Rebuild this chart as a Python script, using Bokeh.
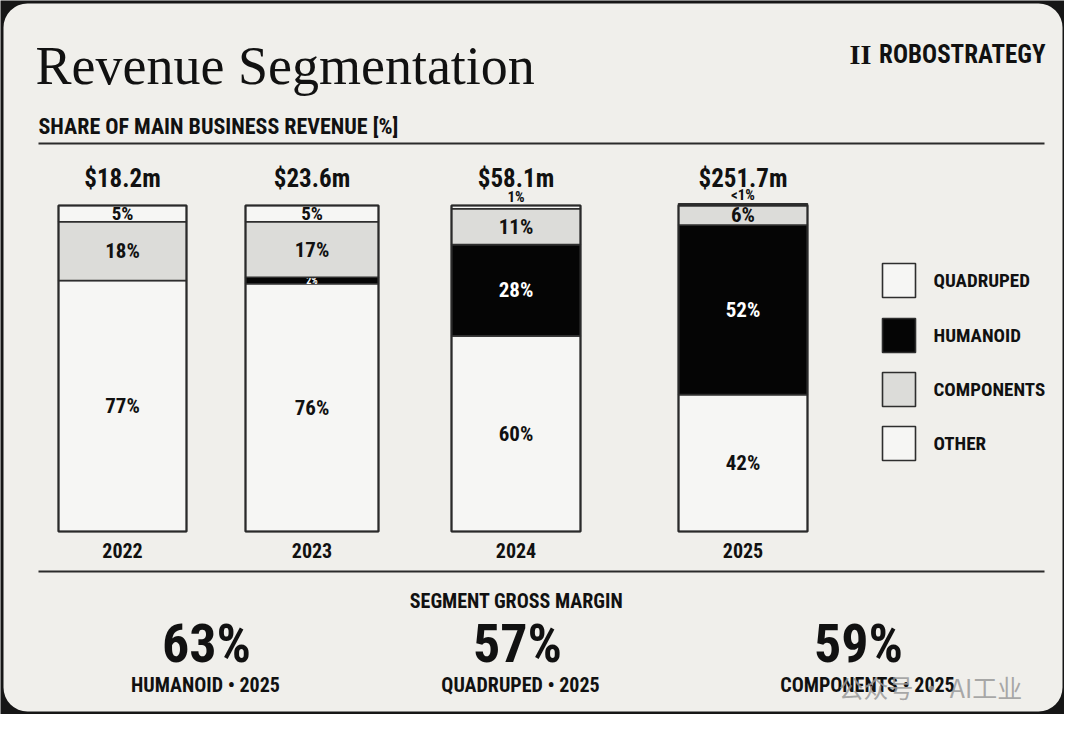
from bokeh.plotting import figure
from bokeh.models import Range1d, ColumnDataSource
from bokeh.core.properties import value
from bokeh.embed import file_html
from bokeh.resources import INLINE

# ---------------- data ----------------
years = ["2022", "2023", "2024", "2025"]
totals = ["$18.2m", "$23.6m", "$58.1m", "$251.7m"]
quadruped = [77, 76, 60, 42]
humanoid = [0, 2, 28, 52]
components = [18, 17, 11, 6]
other = [5, 5, 1, 0.5]          # shown as "<1%" in 2025
quadruped_labels = ["77%", "76%", "60%", "42%"]
humanoid_labels = ["", "2%", "28%", "52%"]
components_labels = ["18%", "17%", "11%", "6%"]
other_labels = ["5%", "5%", "1%", "<1%"]
segments = ["QUADRUPED", "HUMANOID", "COMPONENTS", "OTHER"]
margin_values = [63, 57, 59]
margin_segments = ["HUMANOID", "QUADRUPED", "COMPONENTS"]
margin_year = "2025"

# ---------------- style / layout ----------------
COND = "Roboto Condensed"
SERIF = "Liberation Serif"
INK = "#111111"
BG = "#f0efeb"
seg_colors = ["#f6f6f4", "#050505", "#dcdcd9", "#f6f6f4"]
seg_text = [INK, "#ffffff", INK, INK]
seg_font = ["21px", "21px", "21px", "19px"]

bar_left = [58, 245, 451, 678]
bar_right = [186, 378, 580, 807]
W, H = 1064, 714

p = figure(width=W, height=H, x_range=Range1d(0, W), y_range=Range1d(H, 0),
           x_axis_type=None, y_axis_type=None, toolbar_location=None,
           output_backend="svg", min_border=0, outline_line_color=None,
           background_fill_color="#161616", border_fill_color="#161616")
p.grid.visible = False
# percent scale for bars: 0% at y=531, 100% at y=205
ppx = (531 - 205) / 100.0
p.extra_y_ranges = {"pct": Range1d(start=(531 - H) / ppx, end=531 / ppx)}

# card
p.quad(left=[3], right=[1062], top=[3], bottom=[711], fill_color=BG,
       line_color=None, border_radius=24)

# rules
p.segment(x0=[38, 38], y0=[143, 571], x1=[1044, 1044], y1=[143, 571],
          line_color="#2b2b2b", line_width=2)

# title & header
p.text(x=[35], y=[65], text=["Revenue Segmentation"], text_font=value(SERIF),
       text_font_size="54px", text_color=INK, text_baseline="alphabetic")
p.text(x=[1045], y=[54], text=["ROBOSTRATEGY"], text_font=value(COND),
       text_font_style="bold", text_font_size="25px", text_color=INK,
       text_align="right", text_baseline="middle")
p.text(x=[860], y=[54], text=["II"], text_font=value(SERIF),
       text_font_style="bold", text_font_size="28px", text_color=INK,
       text_align="center", text_baseline="middle")
p.text(x=[38], y=[126], text=["SHARE OF MAIN BUSINESS REVENUE [%]"],
       text_font=value(COND), text_font_style="bold", text_font_size="22px",
       text_color=INK, text_baseline="middle")

# stacked bars
series = [quadruped, humanoid, components, other]
labels = [quadruped_labels, humanoid_labels, components_labels, other_labels]
centers = [(l + r) / 2 for l, r in zip(bar_left, bar_right)]
base = [0.0] * len(years)
for k, vals in enumerate(series):
    tops = [b + v for b, v in zip(base, vals)]
    src = ColumnDataSource(dict(left=bar_left, right=bar_right, bottom=base, top=tops))
    p.quad(left="left", right="right", bottom="bottom", top="top", source=src,
           y_range_name="pct", fill_color=seg_colors[k], line_color="#2e2e2e",
           line_width=1.6)
    big_t, big_y, small_t, small_y, small_x, big_x = [], [], [], [], [], []
    for c, b, v, t in zip(centers, base, vals, labels[k]):
        if not t:
            continue
        if v >= 4:
            big_x.append(c); big_y.append(b + v / 2); big_t.append(t)
        elif k == 3:
            # tiny top segment: label just above the bar
            small_x.append(c); small_y.append(b + v + 2.7); small_t.append(t)
        else:
            small_x.append(c); small_y.append(b + v / 2); small_t.append(t)
    p.text(x=big_x, y=big_y, text=big_t, y_range_name="pct",
           text_font=value(COND), text_font_style="bold", text_font_size=seg_font[k],
           text_color=seg_text[k], text_align="center", text_baseline="middle")
    if small_t:
        p.text(x=small_x, y=small_y, text=small_t, y_range_name="pct",
               text_font=value(COND), text_font_style="bold",
               text_font_size="10px" if k == 1 else "15px",
               text_color=seg_text[k], text_align="center", text_baseline="middle")
    base = tops

# bar outlines
p.quad(left=bar_left, right=bar_right, bottom=[0] * 4, top=[100] * 4,
       y_range_name="pct", fill_color=None, line_color="#2a2a2a", line_width=2)

# totals & years
p.text(x=centers, y=[178] * 4, text=totals, text_font=value(COND),
       text_font_style="bold", text_font_size="25px", text_color=INK,
       text_align="center", text_baseline="middle")
p.text(x=centers, y=[550] * 4, text=years, text_font=value(COND),
       text_font_style="bold", text_font_size="20px", text_color=INK,
       text_align="center", text_baseline="middle")

# legend (manual)
leg_top = [263, 318, 372, 426]
p.quad(left=[882] * 4, right=[915] * 4, top=leg_top, bottom=[t + 34 for t in leg_top],
       fill_color=seg_colors, line_color="#2e2e2e", line_width=1.6)
p.text(x=[933] * 4, y=[t + 17 for t in leg_top], text=segments, text_font=value(COND),
       text_font_style="bold", text_font_size="19px", text_color=INK,
       text_baseline="middle")

# gross margin section
p.text(x=[516], y=[600], text=["SEGMENT GROSS MARGIN"], text_font=value(COND),
       text_font_style="bold", text_font_size="20px", text_color=INK,
       text_align="center", text_baseline="middle")
gm_x = [206, 517, 858]
p.text(x=gm_x, y=[643] * 3, text=[f"{v}%" for v in margin_values],
       text_font=value(COND), text_font_style="bold", text_font_size="54px",
       text_color=INK, text_align="center", text_baseline="middle")
p.text(x=[205, 520, 867], y=[684] * 3,
       text=[f"{s} \u2022 {margin_year}" for s in margin_segments],
       text_font=value(COND), text_font_style="bold", text_font_size="20px",
       text_color=INK, text_align="center", text_baseline="middle")

# watermark
p.text(x=[838], y=[686], text=["公众号 · AI工业"], text_font=value("Noto Sans CJK SC"),
       text_font_size="25px", text_color="#9a9a9a", text_alpha=0.85,
       text_baseline="middle")

open("out.html", "w").write(file_html(p, INLINE))
